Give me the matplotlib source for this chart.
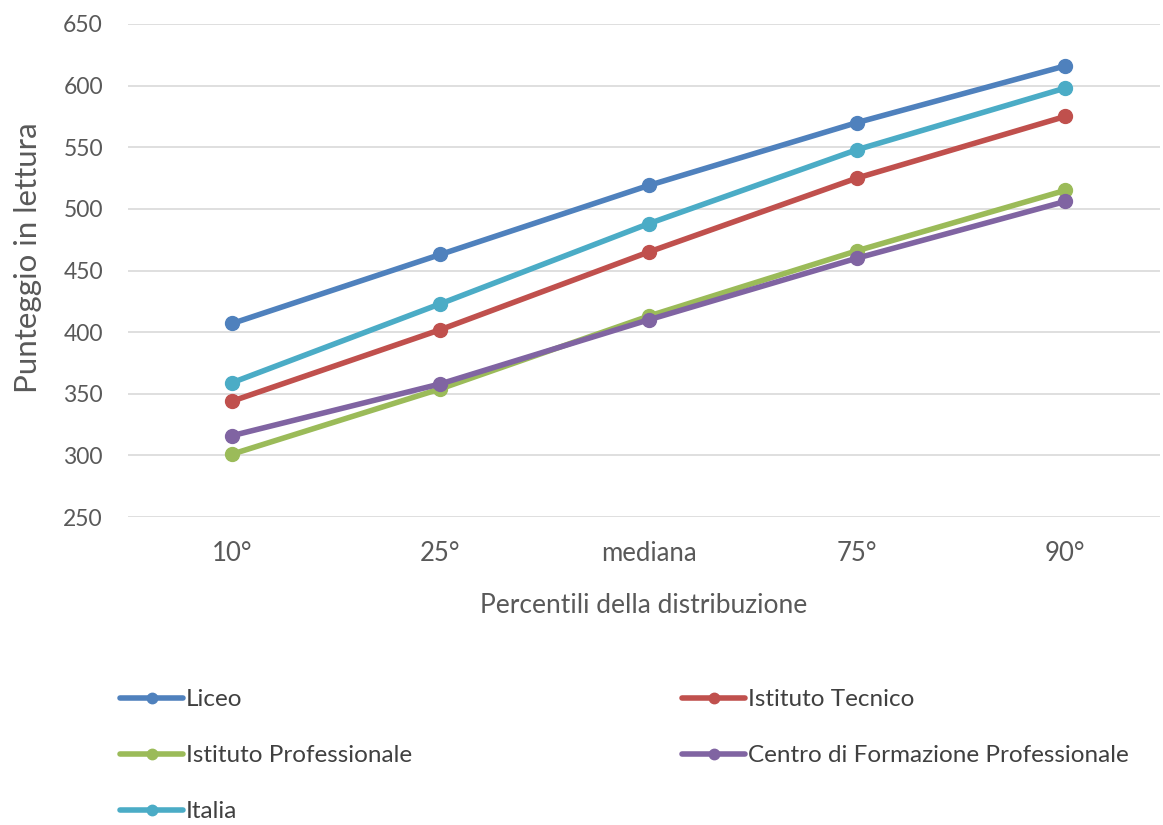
import matplotlib
matplotlib.use("Agg")
import matplotlib.pyplot as plt

categories = ["10°", "25°", "mediana", "75°", "90°"]
liceo = [407, 463, 519, 570, 616]
tecnico = [344, 402, 465, 525, 575]
professionale = [301, 354, 413, 466, 515]
cfp = [316, 358, 410, 460, 506]
italia = [359, 423, 488, 548, 598]
yticks = [250, 300, 350, 400, 450, 500, 550, 600, 650]

plt.rcParams['font.family'] = ['Lato', 'DejaVu Sans']

fig = plt.figure(figsize=(11.63, 8.25), dpi=100)
ax = fig.add_axes([128/1163, 1-517/825, 1032/1163, 493/825])

x = list(range(len(categories)))
series = [
    ("Liceo", liceo, "#4F81BD"),
    ("Istituto Tecnico", tecnico, "#C0504D"),
    ("Istituto Professionale", professionale, "#9BBB59"),
    ("Centro di Formazione Professionale", cfp, "#8064A2"),
    ("Italia", italia, "#4BACC6"),
]
handles = {}
for name, vals, col in series:
    h, = ax.plot(x, vals, color=col, lw=4.0, marker="o", markersize=10,
                 solid_capstyle="round", label=name)
    handles[name] = h

ax.set_xlim(-0.5, 4.455)
ax.set_ylim(250, 650)
ax.set_yticks(yticks)
ax.set_xticks(x)
ax.set_xticklabels(categories)
ax.grid(axis="y", color="#D9D9D9", lw=1.2)
ax.set_axisbelow(True)
for s in ax.spines.values():
    s.set_visible(False)
ax.tick_params(axis="both", length=0, colors="#595959")
ax.tick_params(axis="y", labelsize=16.5, pad=18)
ax.tick_params(axis="x", labelsize=18.5, pad=17)
ax.set_xlabel("Percentili della distribuzione", fontsize=19, color="#595959", labelpad=20)
ax.set_ylabel("Punteggio in lettura", fontsize=22.5, color="#595959")
ax.yaxis.set_label_coords(-0.083, 0.525)

leg_kw = dict(frameon=False, fontsize=17.5, handlelength=2.6, handletextpad=0.12,
              labelspacing=1.44, borderaxespad=0, borderpad=0, labelcolor="#404040",
              markerscale=0.75)
l1 = fig.legend([handles["Liceo"], handles["Istituto Professionale"], handles["Italia"]],
                ["Liceo", "Istituto Professionale", "Italia"],
                loc="upper left", bbox_to_anchor=(120/1163, 1-689/825), **leg_kw)
l2 = fig.legend([handles["Istituto Tecnico"], handles["Centro di Formazione Professionale"]],
                ["Istituto Tecnico", "Centro di Formazione Professionale"],
                loc="upper left", bbox_to_anchor=(682/1163, 1-689/825), **leg_kw)

fig.savefig("out.png", dpi=100)
